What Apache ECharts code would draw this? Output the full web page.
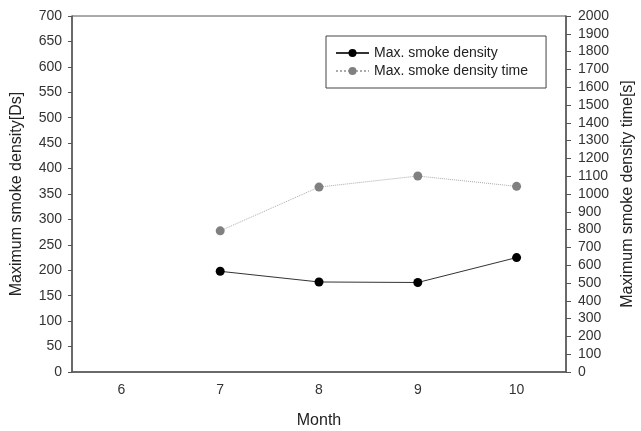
<!DOCTYPE html>
<html>
<head>
<meta charset="utf-8">
<script src="https://cdn.jsdelivr.net/npm/echarts@6/dist/echarts.min.js"></script>
<style>
  html, body { margin: 0; padding: 0; background: #fff; }
  #chart { width: 641px; height: 431px; }
</style>
</head>
<body>
<div id="chart"></div>
<script>
// 数据
var months = ['6', '7', '8', '9', '10'];
var smokeDensity = [null, 198, 177, 176, 225];
var smokeDensityTime = [null, 793, 1039, 1101, 1043];

var myChart = echarts.init(document.getElementById('chart'));

var font = 'Liberation Sans, Arial, sans-serif';
var axisColor = '#555';

var option = {
    animation: false,
    backgroundColor: '#fff',
    textStyle: { fontFamily: font },
    grid: {
        left: 72, right: 75, top: 16, bottom: 59,
        outerBoundsMode: 'none',
        containLabel: false,
        show: true, borderColor: axisColor, borderWidth: 1
    },
    legend: {
        orient: 'vertical',
        left: 326, top: 36,
        padding: [10, 18, 10, 9],
        itemGap: 4,
        itemWidth: 33, itemHeight: 10,
        borderColor: '#444', borderWidth: 1,
        textStyle: { fontFamily: font, fontSize: 14, color: '#222' },
        data: ['Max. smoke density', 'Max. smoke density time']
    },
    xAxis: {
        type: 'category',
        data: months,
        boundaryGap: true,
        name: 'Month',
        nameLocation: 'middle',
        nameGap: 41,
        nameTextStyle: { fontSize: 16, color: '#222' },
        axisLine: { lineStyle: { color: axisColor, width: 1.5 } },
        axisTick: { alignWithLabel: true, length: 4, lineStyle: { color: axisColor } },
        axisLabel: { fontSize: 14, color: '#333', margin: 11 },
        splitLine: { show: false }
    },
    yAxis: [{
        type: 'value',
        min: 0, max: 700, interval: 50,
        position: 'left',
        name: 'Maximum smoke density[Ds]',
        nameLocation: 'middle',
        nameRotate: 90,
        nameGap: 47,
        nameTextStyle: { fontSize: 16, color: '#222' },
        axisLine: { show: true, lineStyle: { color: axisColor, width: 1.5 } },
        axisTick: { show: true, length: 4, lineStyle: { color: axisColor } },
        axisLabel: { fontSize: 14, color: '#333', margin: 10 },
        splitLine: { show: false }
    }, {
        type: 'value',
        min: 0, max: 2000, interval: 100,
        position: 'right',
        name: 'Maximum smoke density time[s]',
        nameLocation: 'middle',
        nameRotate: 90,
        nameGap: 49,
        nameTextStyle: { fontSize: 16, color: '#222' },
        axisLine: { show: true, lineStyle: { color: axisColor, width: 1.5 } },
        axisTick: { show: true, length: 5, lineStyle: { color: axisColor } },
        axisLabel: { fontSize: 14, color: '#333', margin: 12, formatter: function (v) { return String(v); } },
        splitLine: { show: false }
    }],
    series: [{
        name: 'Max. smoke density',
        type: 'line',
        yAxisIndex: 0,
        data: smokeDensity,
        symbol: 'circle',
        symbolSize: 9,
        itemStyle: { color: '#000' },
        lineStyle: { color: '#333', width: 1 }
    }, {
        name: 'Max. smoke density time',
        type: 'line',
        yAxisIndex: 1,
        data: smokeDensityTime,
        symbol: 'circle',
        symbolSize: 9,
        itemStyle: { color: '#808080' },
        lineStyle: { color: '#aaa', width: 1, type: 'dotted' }
    }]
};

myChart.setOption(option);
</script>
</body>
</html>
